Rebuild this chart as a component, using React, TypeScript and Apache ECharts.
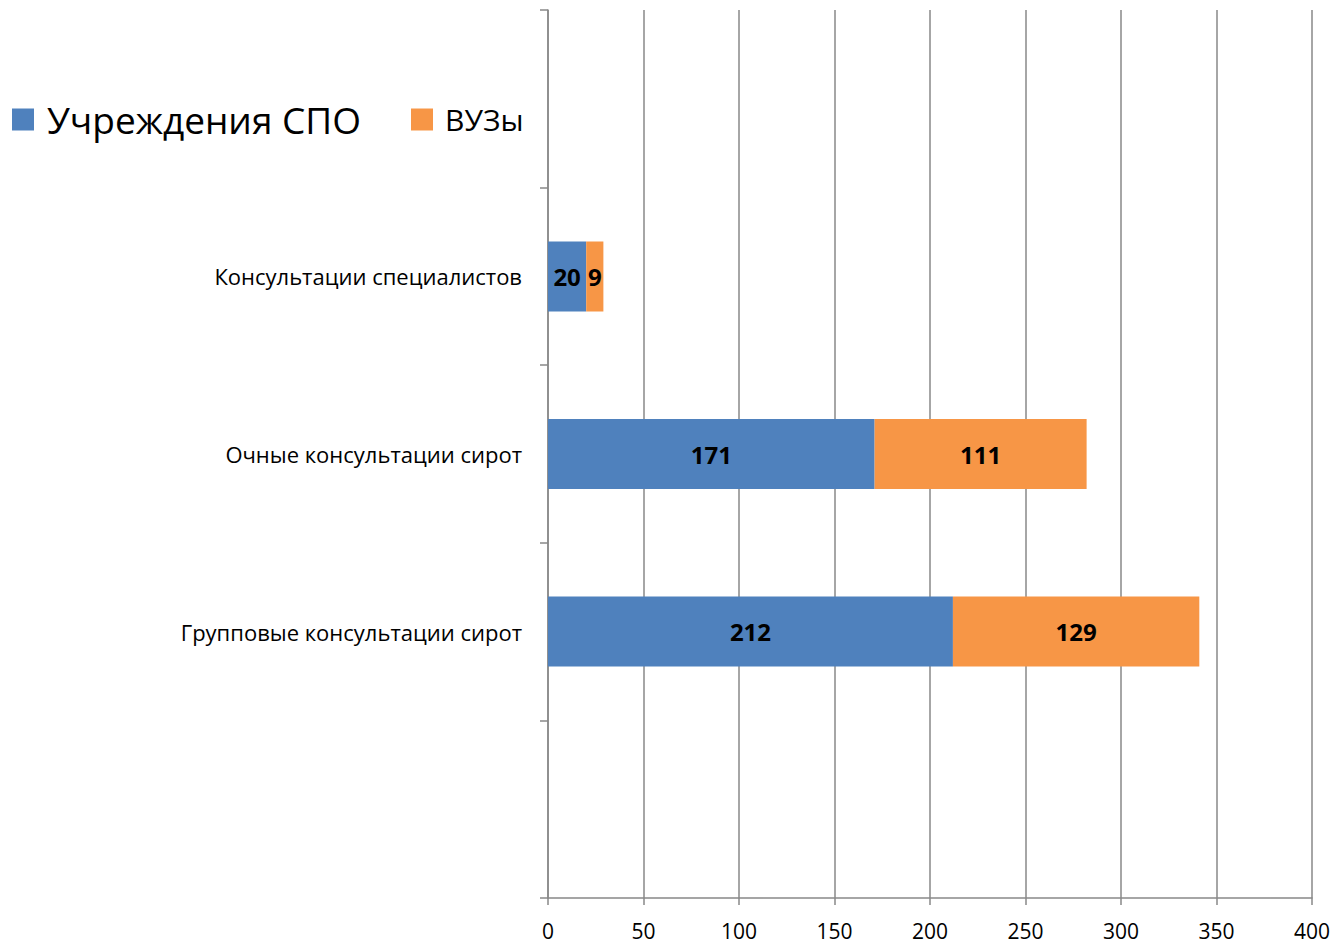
import React, { useEffect, useRef } from "react";
import * as echarts from "echarts";

const categories = ["", "Групповые консультации сирот", "Очные консультации сирот", "Консультации специалистов", ""];
const spoValues: (number | null)[] = [null, 212, 171, 20, null];
const vuzValues: (number | null)[] = [null, 129, 111, 9, null];
const seriesNames = ["Учреждения СПО", "ВУЗы"];

const FONT = '"Open Sans", "Noto Sans", sans-serif';

export default function App() {
  const ref = useRef<HTMLDivElement>(null);
  useEffect(() => {
    if (!ref.current) return;
    const chart = echarts.init(ref.current, undefined, { renderer: "svg" });
    const labelCfg = {
      show: true,
      position: "inside",
      color: "#000",
      fontWeight: "bold",
      fontSize: 24,
      fontFamily: FONT,
      formatter: (p: any) => (p.value == null ? "" : String(p.value)),
    };
    chart.setOption({
      animation: false,
      textStyle: { fontFamily: FONT },
      legend: {
        left: 7,
        top: 96,
        itemWidth: 22,
        itemHeight: 22,
        itemGap: 50,
        icon: "rect",
        data: seriesNames,
        formatter: (name: string) => (name === "ВУЗы" ? `{b|${name}}` : `{a|${name}}`),
        textStyle: {
          color: "#000",
          rich: {
            a: { fontSize: 37, fontFamily: FONT, color: "#000", padding: [0, 0, 0, 8] },
            b: { fontSize: 30, fontFamily: FONT, color: "#000", padding: [0, 0, 0, 7] },
          },
        },
      },
      grid: { left: 548, right: 24, top: 10, bottom: 48, containLabel: false },
      xAxis: {
        type: "value",
        min: 0,
        max: 400,
        interval: 50,
        axisLine: { show: true, lineStyle: { color: "#888", width: 1.5 } },
        axisTick: { show: true, length: 7, lineStyle: { color: "#888", width: 1.5 } },
        splitLine: { show: true, lineStyle: { color: "#888", width: 1.5 } },
        axisLabel: { color: "#000", fontSize: 21, fontFamily: FONT, margin: 22 },
      },
      yAxis: {
        type: "category",
        data: categories,
        boundaryGap: true,
        axisLine: { show: true, lineStyle: { color: "#888", width: 1.5 } },
        axisTick: { show: true, length: 8, alignWithLabel: false, lineStyle: { color: "#888", width: 1.5 } },
        axisLabel: { color: "#000", fontSize: 22, fontFamily: FONT, margin: 26 },
      },
      series: [
        {
          name: seriesNames[0],
          type: "bar",
          stack: "total",
          data: spoValues,
          barWidth: 70,
          itemStyle: { color: "#4F81BD" },
          label: labelCfg,
        },
        {
          name: seriesNames[1],
          type: "bar",
          stack: "total",
          data: vuzValues,
          barWidth: 70,
          itemStyle: { color: "#F79646" },
          label: labelCfg,
        },
      ],
    });
    return () => chart.dispose();
  }, []);
  return <div ref={ref} style={{ position: "absolute", left: 0, top: 0, width: 1336, height: 946 }} />;
}
